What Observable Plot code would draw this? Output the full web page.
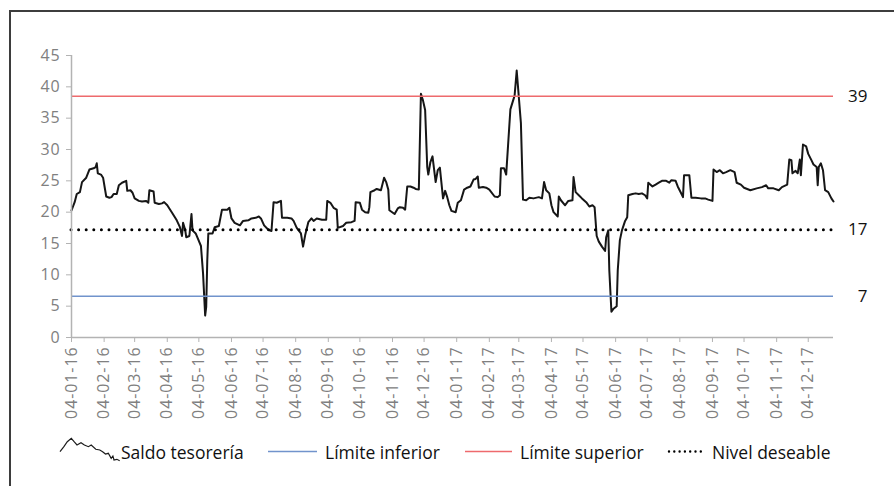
<!DOCTYPE html>
<html>
<head>
<meta charset="utf-8">
<script src="https://cdn.jsdelivr.net/npm/d3@7"></script>
<script src="https://cdn.jsdelivr.net/npm/@observablehq/plot@0.6"></script>
<style>
  html, body { margin: 0; padding: 0; background: #fff; overflow: hidden; width: 894px; height: 486px; }
  #frame { position: absolute; left: 9px; top: 10px; width: 900px; height: 490px;
           border-left: 2px solid #3d3d3d; border-top: 2px solid #3d3d3d; }
  #chart { position: absolute; left: 0; top: 0; }
  #legend { position: absolute; left: 0; top: 430px; }
</style>
</head>
<body>
<div id="frame"></div>
<div id="chart"></div>
<div id="legend"></div>
<script>
// Days since 04-01-2016 and treasury balance ("Saldo tesorería")
const dias = [0,3,5,8,10,14,17,21,23,24,25,28,30,32,33,36,38,40,43,45,48,52,53,56,58,60,64,67,71,73,74,78,79,83,86,88,91,96,100,103,105,106,108,109,112,114,115,118,120,123,125,127,128,129,130,134,136,140,143,148,150,152,155,160,163,168,171,175,178,180,183,187,190,192,195,199,200,205,209,211,214,218,220,222,225,228,230,233,238,242,243,246,249,252,253,258,261,266,269,270,274,276,279,282,283,284,288,290,294,297,299,301,302,307,310,312,315,317,319,322,325,327,330,332,334,336,338,339,341,343,346,348,350,353,355,357,359,361,365,367,370,373,376,379,382,384,386,387,391,394,397,402,405,407,408,411,413,417,421,423,427,429,432,435,439,444,447,449,451,454,456,458,462,463,465,469,472,476,477,479,482,485,489,492,495,497,499,501,504,507,508,510,511,513,515,518,519,521,523,526,528,529,533,536,539,542,545,547,548,552,555,558,561,565,568,570,574,576,579,581,582,587,589,593,598,602,605,609,610,613,616,619,622,626,630,632,636,639,645,651,656,660,662,667,672,675,680,682,684,685,688,690,692,693,695,698,700,703,705,708,709,710,712,714,716,719,722,724];
const saldo = [20.3,21.6,22.9,23.2,24.8,25.5,26.8,27.0,27.2,27.8,26.2,26.0,25.5,23.5,22.5,22.3,22.4,22.9,22.9,24.3,24.7,25.0,23.4,23.5,23.1,22.2,21.8,21.7,21.8,21.5,23.5,23.3,21.5,21.3,21.4,21.6,21.1,19.8,18.7,17.6,16.2,18.3,17.2,16.0,16.2,19.7,17.1,16.6,15.8,14.6,10.2,3.5,4.9,12.3,16.6,16.6,17.6,17.8,20.4,20.4,20.7,19.0,18.3,17.9,18.6,18.7,19.0,19.1,19.3,19.0,17.9,17.2,17.0,21.6,21.5,21.8,19.1,19.1,19.0,18.6,17.5,16.6,14.5,16.3,18.4,19.0,18.6,19.0,18.8,18.8,21.8,21.5,20.7,20.4,17.5,17.8,18.3,18.4,18.6,21.6,21.5,20.4,20.0,19.9,20.8,23.2,23.5,23.7,23.5,25.5,24.8,23.6,20.3,19.7,20.6,20.8,20.7,20.4,24.1,24.1,23.9,23.7,23.6,38.9,37.8,36.3,27.2,26.0,28.0,28.9,24.8,26.7,27.1,22.2,23.4,22.4,21.1,20.2,20.0,21.5,21.9,23.6,23.9,24.1,25.2,25.3,25.7,23.9,24.0,23.9,23.6,22.5,22.4,22.7,27.0,27.0,26.0,36.4,38.6,42.6,34.2,22.0,21.9,22.3,22.2,22.4,22.2,24.8,23.5,23.0,21.1,20.0,19.3,22.5,21.9,21.1,21.8,21.9,25.6,23.2,22.7,22.2,21.6,20.9,21.1,20.8,16.2,15.3,14.5,13.8,16.0,17.1,10.7,4.1,4.6,5.0,10.7,15.5,17.1,18.6,19.2,22.7,22.9,23.0,22.9,23.0,22.7,22.2,24.7,24.1,24.4,24.7,25.0,25.0,24.7,25.1,25.0,24.1,23.1,22.4,25.9,25.9,22.3,22.3,22.2,22.2,22.0,21.8,26.8,26.4,26.7,26.2,26.4,26.7,26.4,24.7,24.4,23.9,23.5,23.8,24.0,24.3,23.8,23.8,23.5,24.0,24.4,28.4,28.3,26.2,26.6,26.2,28.4,25.9,30.8,30.5,29.3,28.3,27.6,27.2,24.3,27.2,27.8,26.7,23.5,23.2,22.2,21.7];

// Reference levels and their right-hand labels
const limiteInferior = 6.6;
const limiteSuperior = 38.5;
const nivelDeseable = 17.2;
const nivelesValores = [limiteSuperior, nivelDeseable, limiteInferior];
const nivelesEtiquetas = ["39", "17", "7"];

// X tick labels (dd-mm-yy)
const tickLabels = ["04-01-16","04-02-16","04-03-16","04-04-16","04-05-16","04-06-16","04-07-16","04-08-16","04-09-16","04-10-16","04-11-16","04-12-16","04-01-17","04-02-17","04-03-17","04-04-17","04-05-17","04-06-17","04-07-17","04-08-17","04-09-17","04-10-17","04-11-17","04-12-17"];
const yTicks = [0,5,10,15,20,25,30,35,40,45];

// Legend
const legendNames = ["Saldo tesorería", "Límite inferior", "Límite superior", "Nivel deseable"];

const colInf = "#7193cc", colSup = "#ee6a6d";
const parse = d3.utcParse("%d-%m-%y");
const inicio = parse(tickLabels[0]);
const fin = d3.utcDay.offset(inicio, dias[dias.length - 1]);
const data = dias.map((d, i) => ({fecha: d3.utcDay.offset(inicio, d), saldo: saldo[i]}));
const xTicks = tickLabels.map(parse);

const chart = Plot.plot({
  width: 894, height: 420,
  marginLeft: 71, marginRight: 61, marginTop: 55, marginBottom: 83,
  x: {type: "utc", domain: [inicio, fin]},
  y: {domain: [0, 45]},
  style: {fontFamily: "'Open Sans', sans-serif", background: "transparent", overflow: "visible"},
  marks: [
    Plot.lineY(data, {x: "fecha", y: "saldo", stroke: "#161616", strokeWidth: 2}),
    Plot.ruleY([limiteInferior], {stroke: colInf, strokeWidth: 1.5}),
    Plot.ruleY([limiteSuperior], {stroke: colSup, strokeWidth: 1.5}),
    Plot.ruleY([nivelDeseable], {stroke: "#000", strokeWidth: 3, strokeDasharray: "0 7.6", strokeLinecap: "round"}),
    Plot.ruleX([inicio], {stroke: "#b3b3b3", strokeWidth: 1.5}),
    Plot.ruleY([0], {stroke: "#b3b3b3", strokeWidth: 1.5}),
    Plot.axisY({ticks: yTicks, tickSize: 5, tickPadding: 6, fontSize: 16, stroke: "#b3b3b3", fill: "#808080", label: null}),
    Plot.axisX({ticks: xTicks, tickFormat: d3.utcFormat("%d-%m-%y"), tickRotate: -90, tickSize: 5, tickPadding: 4,
                fontSize: 16, stroke: "#b3b3b3", fill: "#808080", label: null}),
    Plot.text(nivelesEtiquetas, {x: fin, y: (d, i) => nivelesValores[i], text: d => d, dx: 34, textAnchor: "end",
                fontSize: 17, fill: "#111"})
  ]
});
document.getElementById("chart").appendChild(chart);
d3.select(chart).selectAll("g[aria-label='x-axis tick label'] text").style("letter-spacing", "0.9px");
d3.select(chart).selectAll("g[aria-label='y-axis tick label'] text").style("letter-spacing", "0.8px");

// Legend below the chart
const lg = d3.select("#legend").append("svg").attr("width", 894).attr("height", 56)
  .style("font-family", "'Open Sans', sans-serif").style("font-size", "17.5px");
lg.append("path")
  .attr("d", "M60,21.7 L63.9,16.7 L67.3,11.7 L71.3,8.3 L74.1,11.7 L77,15 L81,12.7 L84.4,15 L88.4,16.7 L91.2,15 L95.8,19.3 L99.8,20 L102.6,21.7 L105.5,24 L108.3,23.3 L111.2,28.3 L112.9,26 L114,30 L116.9,29.3 L119.7,30.7")
  .attr("fill", "none").attr("stroke", "#1c1c1c").attr("stroke-width", 1.2);
lg.append("line").attr("x1", 268).attr("x2", 317).attr("y1", 21.5).attr("y2", 21.5).attr("stroke", colInf).attr("stroke-width", 1.5);
lg.append("line").attr("x1", 465).attr("x2", 512).attr("y1", 21.5).attr("y2", 21.5).attr("stroke", colSup).attr("stroke-width", 1.5);
lg.append("line").attr("x1", 669).attr("x2", 705).attr("y1", 21.5).attr("y2", 21.5).attr("stroke", "#000")
  .attr("stroke-width", 2.4).attr("stroke-dasharray", "0 5.3").attr("stroke-linecap", "round");
const lx = [121, 325, 520, 712];
legendNames.forEach((t, i) => lg.append("text").attr("x", lx[i]).attr("y", 29).attr("fill", "#111").text(t));
</script>
</body>
</html>
